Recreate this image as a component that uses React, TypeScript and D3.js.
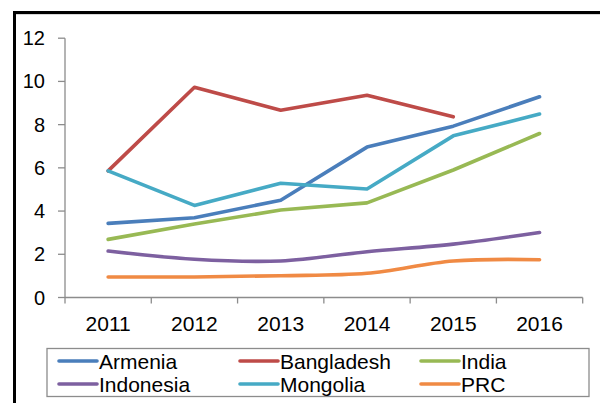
import React from "react";
import * as d3 from "d3";

const years = ["2011", "2012", "2013", "2014", "2015", "2016"];
const yTicks = [0, 2, 4, 6, 8, 10, 12];

const armenia = [3.43, 3.69, 4.5, 6.96, 7.93, 9.29];
const bangladesh = [5.86, 9.73, 8.67, 9.36, 8.36, null];
const india = [2.69, 3.4, 4.05, 4.38, 5.9, 7.59];
const indonesia = [2.15, 1.77, 1.69, 2.12, 2.47, 3.01];
const mongolia = [5.86, 4.26, 5.29, 5.02, 7.48, 8.49];
const prc = [0.95, 0.95, 1.01, 1.12, 1.69, 1.75];

const seriesNames = ["Armenia", "Bangladesh", "India", "Indonesia", "Mongolia", "PRC"];
const seriesValues = [armenia, bangladesh, india, indonesia, mongolia, prc];
const seriesColors = ["#4A7EBB", "#BE4B48", "#98B954", "#7D60A0", "#46AAC5", "#F08A44"];
const smoothed = [false, false, false, true, false, true];

const FONT = "'Liberation Sans', Arial, sans-serif";

export default function App() {
  const W = 600, H = 403;
  const left = 65, right = 582.7, top = 38.2, bottom = 297.5;
  const x = d3.scaleBand<string>().domain(years).range([left, right]);
  const y = d3.scaleLinear().domain([0, 12]).range([bottom, top]);
  const cx = (i: number) => (x(years[i]) as number) + x.bandwidth() / 2;

  const lineGen = (smooth: boolean) =>
    d3
      .line<number | null>()
      .defined((d) => d !== null)
      .x((_, i) => cx(i))
      .y((d) => y(d as number))
      .curve(smooth ? d3.curveCatmullRom.alpha(0.5) : d3.curveLinear);

  const xTickPos = years.map((yr) => x(yr) as number).concat([right]);

  const legendCols = [59, 240, 421];
  const legendRows = [361, 384];

  return (
    <svg
      width={W}
      height={H}
      style={{ position: "absolute", left: 0, top: 0, background: "#fff" }}
    >
      {/* outer frame (cropped) */}
      <line x1={14.5} y1={12.5} x2={W} y2={12.5} stroke="#000" strokeWidth={3} />
      <line x1={14.5} y1={11} x2={14.5} y2={H} stroke="#000" strokeWidth={3} />
      <line x1={16} y1={14.5} x2={W} y2={14.5} stroke="#d8d8d8" strokeWidth={1} />

      {/* y axis */}
      <line x1={left} y1={top} x2={left} y2={bottom} stroke="#8c8c8c" strokeWidth={1.3} />
      {yTicks.map((t) => (
        <g key={t}>
          <line x1={left - 7} x2={left} y1={y(t)} y2={y(t)} stroke="#8c8c8c" strokeWidth={1.3} />
          <text
            x={45}
            y={y(t)}
            textAnchor="end"
            dominantBaseline="central"
            fontFamily={FONT}
            fontSize={20}
            fill="#000"
          >
            {t}
          </text>
        </g>
      ))}

      {/* x axis */}
      <line x1={left} y1={bottom} x2={right} y2={bottom} stroke="#8c8c8c" strokeWidth={1.3} />
      {xTickPos.map((p, i) => (
        <line key={i} x1={p} x2={p} y1={bottom} y2={bottom + 6} stroke="#8c8c8c" strokeWidth={1.3} />
      ))}
      {years.map((yr, i) => (
        <text
          key={yr}
          x={cx(i)}
          y={331}
          textAnchor="middle"
          fontFamily={FONT}
          fontSize={21}
          fill="#000"
        >
          {yr}
        </text>
      ))}

      {/* series */}
      {seriesValues.map((vals, si) => (
        <path
          key={seriesNames[si]}
          d={lineGen(smoothed[si])(vals) || ""}
          fill="none"
          stroke={seriesColors[si]}
          strokeWidth={3.6}
          strokeLinejoin="round"
          strokeLinecap="round"
        />
      ))}

      {/* legend */}
      <rect x={47} y={348.5} width={542} height={48} fill="#fff" stroke="#8c8c8c" strokeWidth={1.3} />
      {seriesNames.map((name, i) => {
        const col = legendCols[i % 3];
        const row = legendRows[Math.floor(i / 3)];
        return (
          <g key={name}>
            <line
              x1={col}
              x2={col + 38}
              y1={row}
              y2={row}
              stroke={seriesColors[i]}
              strokeWidth={3.6}
              strokeLinecap="round"
            />
            <text
              x={col + 40}
              y={row}
              dominantBaseline="central"
              fontFamily={FONT}
              fontSize={21}
              fill="#000"
            >
              {name}
            </text>
          </g>
        );
      })}
    </svg>
  );
}
